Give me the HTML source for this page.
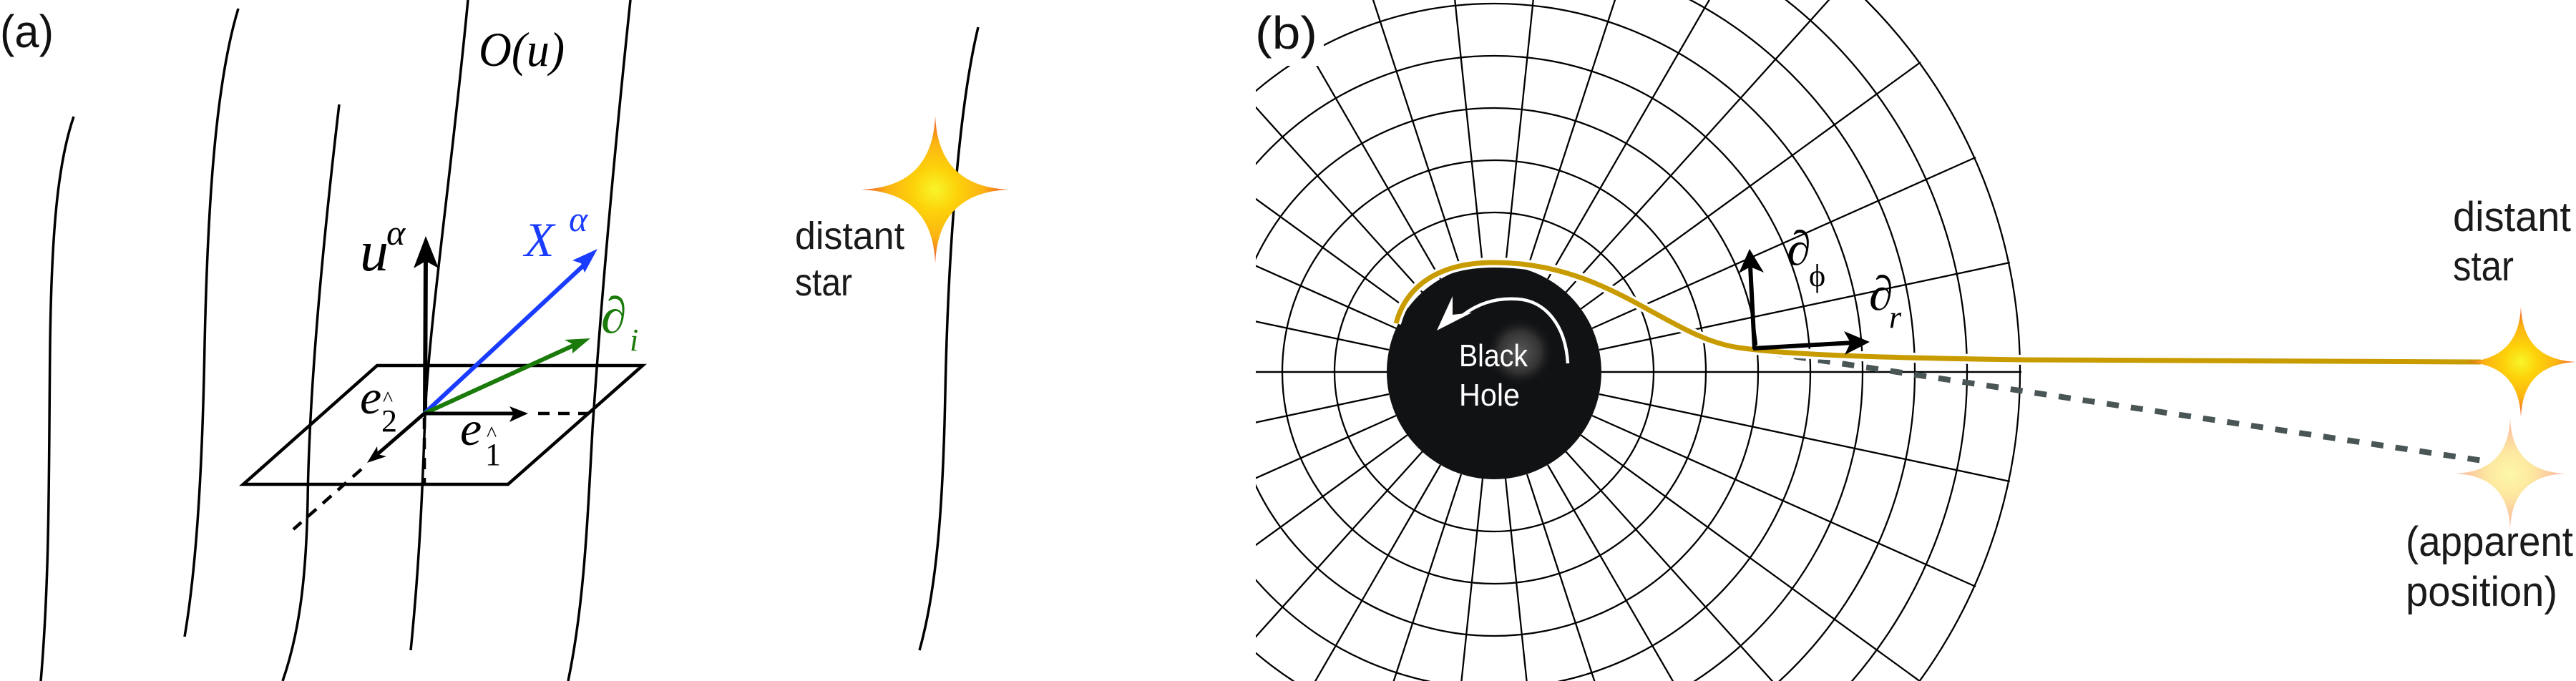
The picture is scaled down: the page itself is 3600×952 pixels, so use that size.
<!DOCTYPE html>
<html><head><meta charset="utf-8">
<style>
html,body{margin:0;padding:0;background:#fff;width:3600px;height:952px;overflow:hidden;}
svg{display:block;}
.sans{font-family:"Liberation Sans",sans-serif;}
.ser{font-family:"Liberation Serif",serif;font-style:italic;}
</style></head>
<body>
<svg width="3600" height="952" viewBox="0 0 3600 952" xmlns="http://www.w3.org/2000/svg">
<defs>
  <radialGradient id="sg" cx="0.5" cy="0.5" r="0.5">
    <stop offset="0" stop-color="#f8f52a"/>
    <stop offset="0.3" stop-color="#fdd20a"/>
    <stop offset="0.65" stop-color="#fbb313"/>
    <stop offset="1" stop-color="#f0502a"/>
  </radialGradient>
  <radialGradient id="sg2" cx="0.5" cy="0.5" r="0.5">
    <stop offset="0" stop-color="#fdf8a8"/>
    <stop offset="0.4" stop-color="#fde8a0"/>
    <stop offset="1" stop-color="#fbb4a0"/>
  </radialGradient>
  <radialGradient id="hl" cx="0.5" cy="0.5" r="0.5">
    <stop offset="0" stop-color="#5a5a5a"/>
    <stop offset="0.6" stop-color="#333"/>
    <stop offset="1" stop-color="#111214" stop-opacity="0"/>
  </radialGradient>
  <path id="star" d="M0,-1 Q0.04,-0.04 1,0 Q0.04,0.04 0,1 Q-0.04,0.04 -1,0 Q-0.04,-0.04 0,-1 Z"/>
  <clipPath id="gc"><circle cx="0" cy="0" r="737"/></clipPath>
  <clipPath id="gr"><rect x="-333" y="-520" width="1200" height="952"/></clipPath>
  <g id="q">
    <line x1="150" y1="0" x2="737" y2="0"/>
    <line x1="147" y1="-31" x2="721" y2="-153"/>
    <line x1="137" y1="-61" x2="673" y2="-300"/>
    <line x1="121" y1="-88" x2="596" y2="-433"/>
    <line x1="100" y1="-111" x2="493" y2="-548"/>
    <line x1="75" y1="-130" x2="369" y2="-638"/>
    <line x1="46" y1="-143" x2="228" y2="-701"/>
    <line x1="16" y1="-149" x2="77" y2="-733"/>
  </g>
</defs>

<!-- ============ PANEL A ============ -->
<text x="0" y="66" class="sans" font-size="64" fill="#111" textLength="75" lengthAdjust="spacingAndGlyphs">(a)</text>
<g fill="none" stroke="#000" stroke-width="3.5">
  <path d="M103,163 C80,230 72,330 70,480 C68,650 70,800 57,952"/>
  <path d="M333,12 C300,120 290,300 286,480 C283,650 275,790 258,890"/>
  <path d="M474,146 C450,350 432,550 430,700 C428,800 420,880 395,952"/>
  <path d="M654,0 C630,250 600,450 594,580 C590,700 585,800 574,909"/>
  <path d="M881,0 C860,200 840,420 828,600 C820,750 815,850 794,952"/>
  <path d="M1367,38 C1340,150 1325,350 1321,550 C1318,700 1310,820 1285,909"/>
</g>
<polygon points="527,511 898,511 710,677 340,677" fill="none" stroke="#000" stroke-width="4.5"/>
<g stroke="#000" stroke-width="4.5" fill="none" stroke-dasharray="16,12">
  <line x1="593" y1="584" x2="593" y2="677"/>
  <line x1="752" y1="578" x2="823" y2="578"/>
  <line x1="505" y1="656" x2="410" y2="740"/>
</g>
<line x1="594" y1="580" x2="595" y2="352" stroke="#000" stroke-width="6"/>
<polygon points="595,330 578,375 595,365 613,375" fill="#000"/>
<line x1="593" y1="578" x2="822" y2="365" stroke="#1a3cff" stroke-width="6"/>
<polygon points="835,348 800,364 812,368 817,381" fill="#1a3cff"/>
<line x1="593" y1="578" x2="808" y2="480" stroke="#1a7a0a" stroke-width="6"/>
<polygon points="825,473 789,475 800,481 800,494" fill="#1a7a0a"/>
<line x1="593" y1="578" x2="720" y2="578" stroke="#000" stroke-width="5"/>
<polygon points="738,578 712,568 718,578 712,590" fill="#000"/>
<line x1="593" y1="578" x2="525" y2="637" stroke="#000" stroke-width="5"/>
<polygon points="513,647 527,624 528,635 540,638" fill="#000"/>
<text x="669" y="92" class="ser" font-size="68" fill="#000" textLength="120" lengthAdjust="spacingAndGlyphs">O(u)</text>
<text x="503" y="378" class="ser" font-size="80" fill="#000">u</text>
<text x="540" y="342" class="ser" font-size="50" fill="#000">α</text>
<text x="733" y="358" class="ser" font-size="68" fill="#1a3cff">X</text>
<text x="795" y="323" class="ser" font-size="50" fill="#1a3cff">α</text>
<text x="840" y="465" class="ser" font-size="72" fill="#1a7a0a">∂</text>
<text x="880" y="490" class="ser" font-size="44" fill="#1a7a0a">i</text>
<text x="503" y="578" class="ser" font-size="68" fill="#000">e</text>
<text x="533" y="603" font-family="Liberation Serif,serif" font-size="44" fill="#000">2</text>
<text x="535" y="567" font-family="Liberation Serif,serif" font-size="30" fill="#000">^</text>
<text x="643" y="622" class="ser" font-size="68" fill="#000">e</text>
<text x="678" y="650" font-family="Liberation Serif,serif" font-size="44" fill="#000">1</text>
<text x="680" y="616" font-family="Liberation Serif,serif" font-size="30" fill="#000">^</text>
<use href="#star" transform="translate(1307,265) scale(103,103)" fill="url(#sg)"/>
<text x="1111" y="348" class="sans" font-size="54" fill="#1a1a1a" textLength="153" lengthAdjust="spacingAndGlyphs">distant</text>
<text x="1111" y="413" class="sans" font-size="54" fill="#1a1a1a" textLength="80" lengthAdjust="spacingAndGlyphs">star</text>

<!-- ============ PANEL B ============ -->
<g transform="translate(2088,520)">
  <g clip-path="url(#gr)">
    <g clip-path="url(#gc)" fill="none" stroke="#000" stroke-width="2.3">
      <circle r="223"/><circle r="296"/><circle r="369"/><circle r="442"/>
      <circle r="515"/><circle r="588"/><circle r="661"/><circle r="735"/>
      <use href="#q"/>
      <use href="#q" transform="scale(-1,1)"/>
      <use href="#q" transform="scale(1,-1)"/>
      <use href="#q" transform="scale(-1,-1)"/>
    </g>
  </g>
</g>
<rect x="1745" y="0" width="105" height="92" fill="#fff"/>
<line x1="2440" y1="488" x2="3476" y2="645" stroke="#4a5656" stroke-width="8" stroke-dasharray="17,17"/>
<circle cx="2088" cy="520" r="150" fill="#111214"/>
<circle cx="2124" cy="492" r="48" fill="url(#hl)"/>
<path d="M3467,506 L2830,503 C2620,500 2500,496 2430,486 C2330,472 2250,367 2088,367 C2010,367 1965,400 1951,452" fill="none" stroke="#fff" stroke-width="14"/>
<path d="M3467,506 L2830,503 C2620,500 2500,496 2430,486 C2330,472 2250,367 2088,367 C2010,367 1965,400 1951,452" fill="none" stroke="#c89c00" stroke-width="7"/>
<path d="M2191,508 C2188,455 2160,420 2120,418 C2090,416 2065,425 2045,440" fill="none" stroke="#fff" stroke-width="4.5"/>
<polygon points="2008,462 2030,414 2030,440 2057,437" fill="#fff"/>
<text x="2039" y="512" class="sans" font-size="44" fill="#fff" textLength="96" lengthAdjust="spacingAndGlyphs">Black</text>
<text x="2039" y="567" class="sans" font-size="44" fill="#fff" textLength="85" lengthAdjust="spacingAndGlyphs">Hole</text>
<line x1="2452" y1="488" x2="2446" y2="372" stroke="#000" stroke-width="6"/>
<polygon points="2445,348 2430,382 2446,373 2465,381" fill="#000"/>
<line x1="2450" y1="487" x2="2590" y2="479" stroke="#000" stroke-width="6"/>
<polygon points="2613,478 2577,463 2586,479 2578,496" fill="#000"/>
<text x="2497" y="370" class="ser" font-size="68" fill="#000">∂</text>
<text x="2528" y="400" font-family="Liberation Serif,serif" font-size="44" fill="#000">ϕ</text>
<text x="2612" y="433" class="ser" font-size="68" fill="#000">∂</text>
<text x="2640" y="458" class="ser" font-size="44" fill="#000">r</text>
<use href="#star" transform="translate(3523,506) scale(78,77)" fill="url(#sg)"/>
<use href="#star" transform="translate(3508,662) scale(77,77)" fill="url(#sg2)"/>
<text x="3428" y="323" class="sans" font-size="58" fill="#1a1a1a" textLength="165" lengthAdjust="spacingAndGlyphs">distant</text>
<text x="3428" y="392" class="sans" font-size="58" fill="#1a1a1a" textLength="85" lengthAdjust="spacingAndGlyphs">star</text>
<text x="3362" y="777" class="sans" font-size="58" fill="#1a1a1a" textLength="234" lengthAdjust="spacingAndGlyphs">(apparent</text>
<text x="3362" y="847" class="sans" font-size="58" fill="#1a1a1a" textLength="212" lengthAdjust="spacingAndGlyphs">position)</text>
<text x="1754" y="68" class="sans" font-size="64" fill="#111" textLength="87" lengthAdjust="spacingAndGlyphs">(b)</text>
</svg>
</body></html>
